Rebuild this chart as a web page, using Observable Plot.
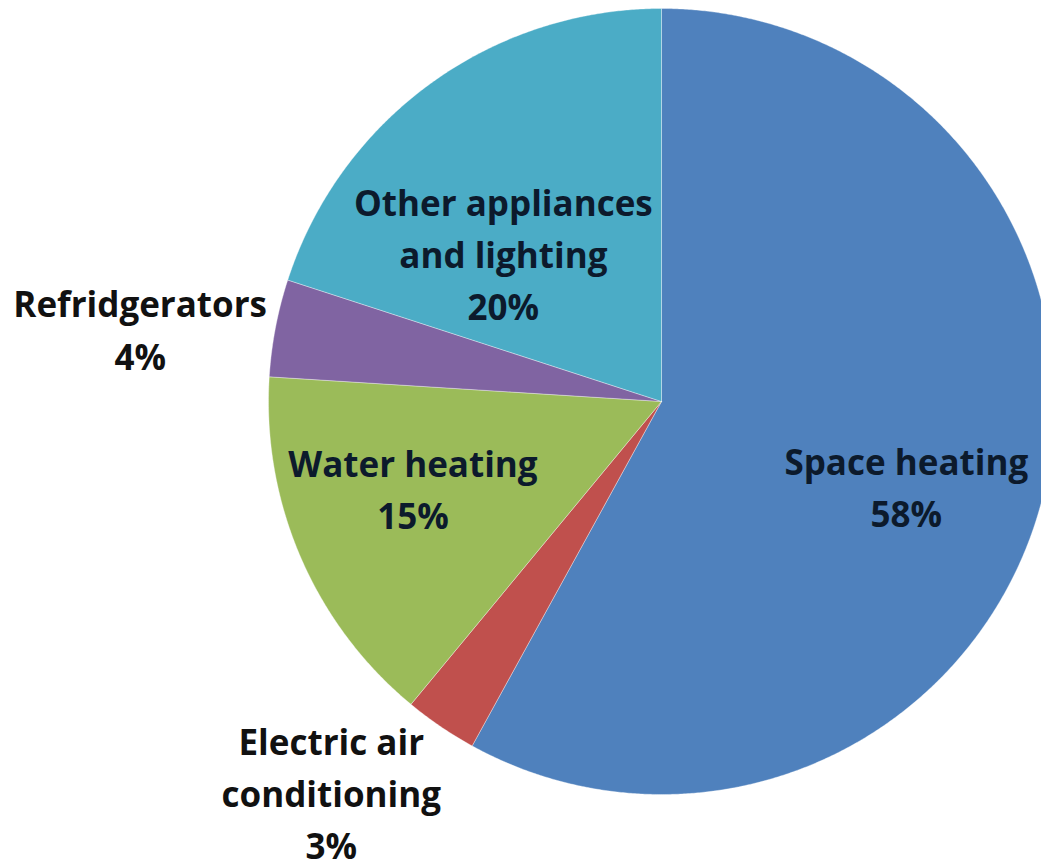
<!DOCTYPE html>
<html>
<head>
<meta charset="utf-8">
<script src="https://cdn.jsdelivr.net/npm/d3@7"></script>
<script src="https://cdn.jsdelivr.net/npm/@observablehq/plot@0.6"></script>
<style>
  html, body { margin: 0; padding: 0; background: #fff; }
  #chart { width: 1041px; height: 866px; overflow: hidden; }
</style>
</head>
<body>
<div id="chart"></div>
<script>
// ---- Data ----
const categories = ["Space heating", "Electric air conditioning", "Water heating", "Refridgerators", "Other appliances and lighting"];
const values = [58, 3, 15, 4, 20];
const labelLines = [
  ["Space heating", "58%"],
  ["Electric air", "conditioning", "3%"],
  ["Water heating", "15%"],
  ["Refridgerators", "4%"],
  ["Other appliances", "and lighting", "20%"]
];
const colors = ["#4F81BD", "#C0504D", "#9BBB59", "#8064A2", "#4BACC6"];

// ---- Layout config (style, not data) ----
const W = 1041, H = 866;
const cx = 661, cy = 401, R = 393;
// label placement: radial factor and angular shift (degrees) relative to slice mid-angle
const labelPlace = [
  {rf: 0.663, da: 5.6, inside: true},
  {rf: 1.310, da: 5.7, inside: false},
  {rf: 0.673, da: 3.4, inside: true},
  {rf: 1.338, da: -3.3, inside: false},
  {rf: 0.545, da: -11.6, inside: true}
];

// ---- Pie geometry from the values ----
const pie = d3.pie().sort(null).value(d => d)(values);
const polys = [];
pie.forEach((p, i) => {
  const n = Math.max(2, Math.ceil((p.endAngle - p.startAngle) / 0.005));
  polys.push({cat: categories[i], a: 0, r: 0, k: 0});
  for (let j = 0; j <= n; j++) {
    const a = p.startAngle + (p.endAngle - p.startAngle) * j / n;
    polys.push({cat: categories[i], a, r: 1, k: j + 1});
  }
  polys.push({cat: categories[i], a: 0, r: 0, k: n + 2});
});
const px = d => d.r * Math.sin(d.a);
const py = d => -d.r * Math.cos(d.a);

const labels = [];
pie.forEach((p, i) => {
  const mid = (p.startAngle + p.endAngle) / 2 + labelPlace[i].da * Math.PI / 180;
  labels.push({
    cat: categories[i],
    text: labelLines[i].join("\n"),
    x: labelPlace[i].rf * Math.sin(mid),
    y: -labelPlace[i].rf * Math.cos(mid),
    inside: labelPlace[i].inside
  });
});

const chart = Plot.plot({
  width: W,
  height: H,
  margin: 0,
  x: {domain: [-cx / R, (W - cx) / R], range: [0, W], axis: null},
  y: {domain: [-cy / R, (H - cy) / R], range: [0, H], axis: null},
  color: {domain: categories, range: colors},
  style: {background: "#fff", overflow: "hidden"},
  marks: [
    Plot.line(polys, {x: px, y: py, z: "cat", fill: "cat", stroke: "#ffffff", strokeWidth: 1, strokeOpacity: 0.35, curve: "linear-closed"}),
    Plot.text(labels, {
      x: "x", y: "y", text: "text",
      fill: d => d.inside ? "#0c1a2c" : "#111111",
      fontFamily: "'Open Sans', Lato, sans-serif",
      fontWeight: "bold",
      fontSize: 35,
      lineHeight: 1.49,
      textAnchor: "middle",
      lineAnchor: "middle",
      dy: -6
    })
  ]
});
document.getElementById("chart").appendChild(chart);
</script>
</body>
</html>
